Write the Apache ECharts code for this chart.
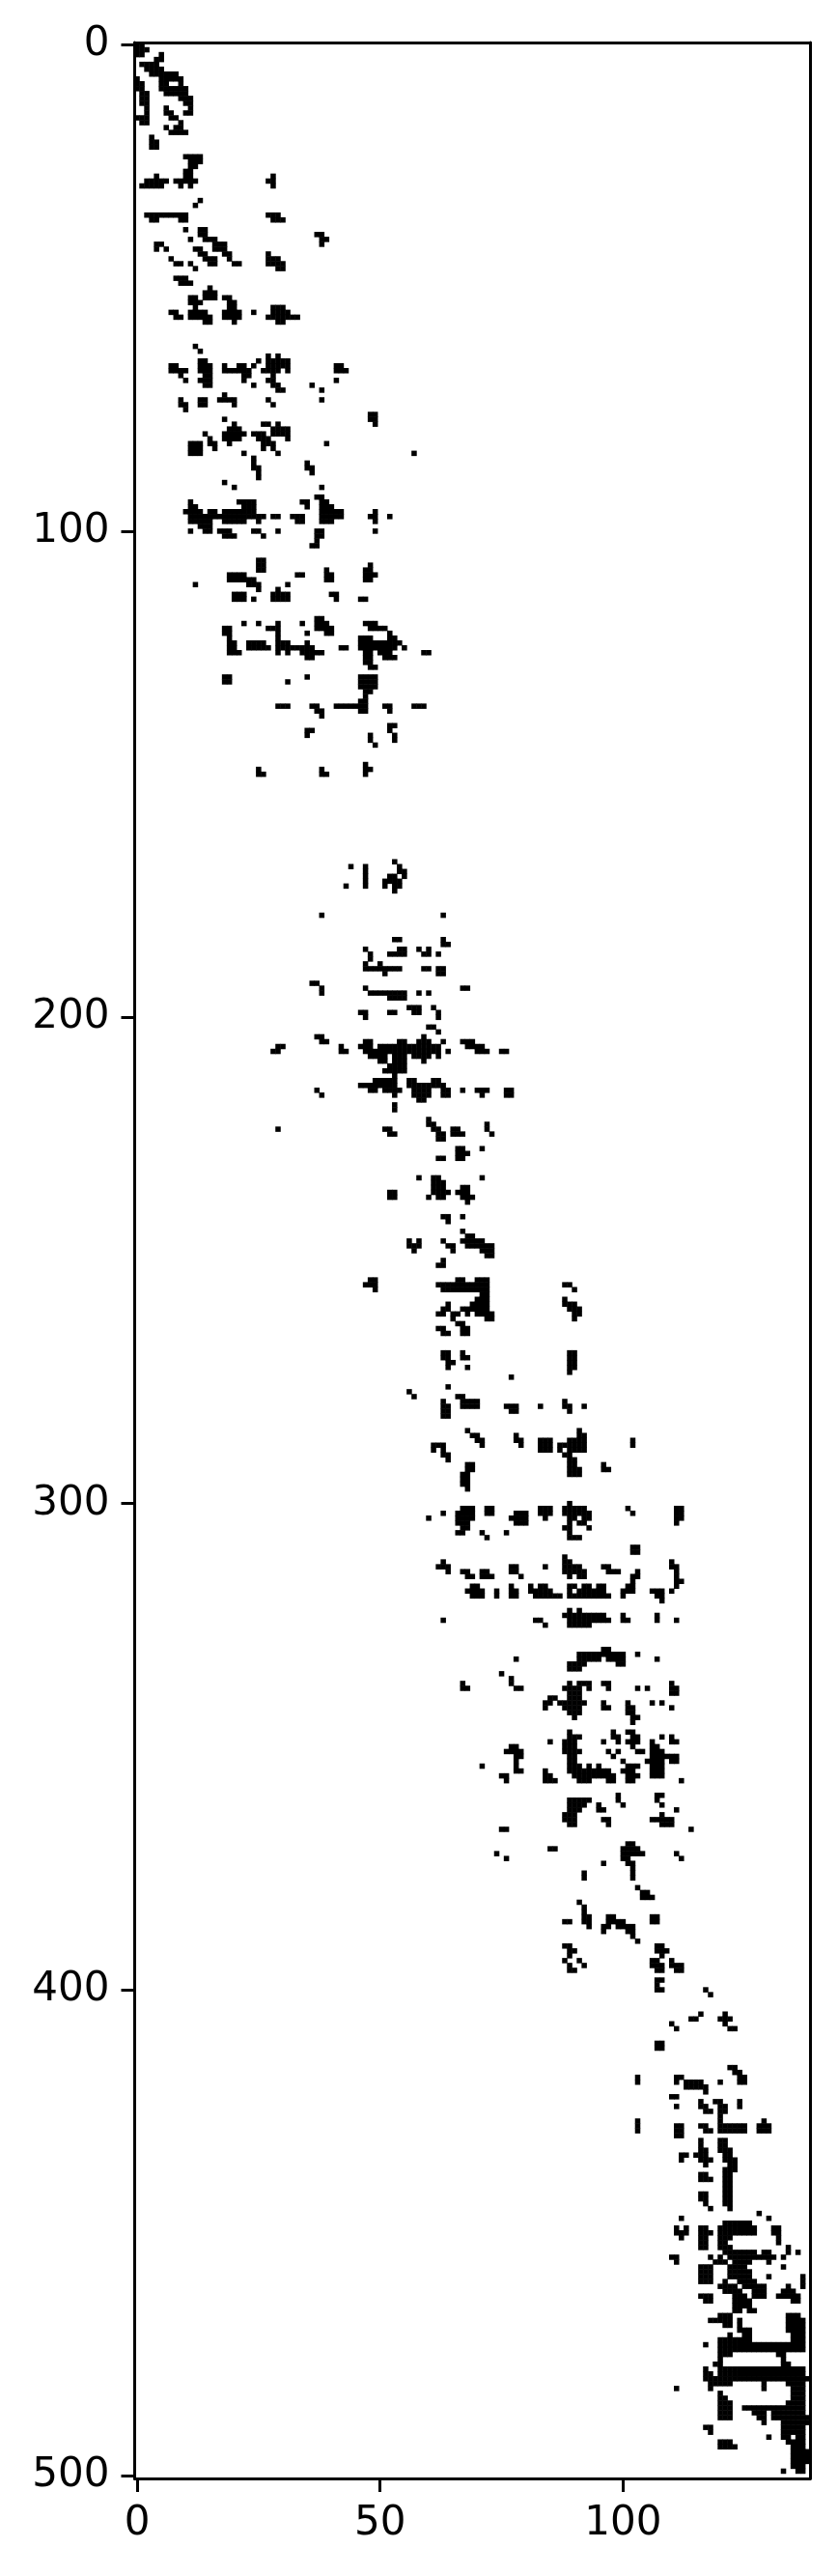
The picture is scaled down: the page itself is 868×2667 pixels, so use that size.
<!DOCTYPE html>
<html><head><meta charset="utf-8">
<script src="https://cdn.jsdelivr.net/npm/echarts@6/dist/echarts.min.js"></script>
<style>html,body{margin:0;padding:0;background:#fff}#c{width:868px;height:2667px}</style>
</head><body><div id="c"></div>
<script>
const rowCount = 501;
const colCount = 139;
const xTickStep = 50;
const yTickStep = 100;
// each entry: "row:col or colStart-colEnd, ..."
const rowRuns = [
"0:0-1","1:0-2","2:0-1,5","3:4-5","4:1-4","5:2-5","6:3-8","7:0,5-9","8:0-1,5-6,9","9:0-1,5-10","10:1-2,6-10","11:1-2,9-11","12:1-2,10-11","13:2,6,11","14:2,6-7,10-11","15:0-2,7-8","16:1-2,9","17:6,8-9","18:7-10","19:3","20:3-4","21:3-4",
"23:10-13","24:11-13","25:11-12","26:10-11","27:4,10-11,28","28:2-6,8-12,27-28","29:1-5,9,11,28","32:13","33:12","35:2-10,27-29","36:3-4,9-10,28-30","38:10,13-14","39:13-14,37-38","40:11,14-16,38-39","41:4-5,16-18,38","42:4,6,12-13,16-18","43:13-14,18-19,27","44:7,14-16,19,27-29","45:8-9,11,15-16,20-21,27-30","46:12,29-30","48:8-10","49:9-11","50:15",
"51:14-16","52:11-12,14-16,18-19","53:11-13,19-20","54:12,19-20,28-30","55:7-8,11-14,18-21,24,28-31","56:8-9,11-15,18-21,27-33","57:14-15,20,29-30",
"62:12","63:13","64:27,29","65:13-14,25,27-31","66:7-8,13-15,18,21-22,24,27-31,41-42","67:7-10,13-15,18-23,26-29,31,41-43","68:9,14-15,22-23,28","69:10,13-15,22,27-28,41","70:14-15,24,28-29,36","71:29-30,38","72:18","73:9,13-14,17-20,27,38","74:9-10,13-14,20,28","75:10","76:48-49","77:18,48-49","78:20,26-27,29,49","79:19-21,28-31","80:14,18-22,24-26,28-31","81:15,18-21,25-27,31","82:11-13,15-16,19,26-28,39","83:11-13,16,26,28","84:11-13,22,29,57","85:24","86:24,35","87:24-25,35-36","88:25,36","89:25","90:18","91:20,38","93:37-38","94:11,21-24,34-35,38-39","95:11-12,22-24,35,38-40","96:10-13,15-16,18-24,38-42,49","97:11-26,28-29,32-34,38-42,48-49,52","98:11-15,18-22,25,33-34,38-40,49","99:13-15","100:11,14-15,17-19,24-25,29,37-38,49","101:18-20,26,37-38","102:37",
"103:36-37","106:25-26","107:25-26,48","108:25-26,39,47-48","109:19-22,33-34,39-40,47-49","110:19-24,39-40,47-48","111:12,23-25,31","112:25,29","113:20-22,28-31,40-41","114:20-22,24,28-31,41,46-47","118:37-38","119:22,25,29,34,37-39,47-49","120:18-19,27-29,37-40,48-51","121:18-19,29,35,39-40,52","122:19,29,46-48,52-53","123:19-20,23-26,29-31,35,46-54","124:19-20,23-27,29-36,42-43,46-49,50-53,55","125:19-21,29,31,34-38,47-48,50-52,59-60","126:35-36,47-48,51-53","127:47-48","128:48-49","130:18-19,35,46-49","131:18-19,31,46-49","132:46-49","133:47-48","134:47","135:46-47","136:29-31,36-37,41-47,51-52,57-59","137:37-38,46-47,52","138:38","140:52-53","141:35-36,52","142:35,48,53","143:48,53","144:49","148:47","149:25,38,47-48","150:25-26,38-39,47",
"168:53","169:44,47,54","170:47,54-55","171:47,52-53,55","172:47,51-54","173:43,47,51,53-54","174:53","179:38,63","184:53-54,63","185:63-64","186:47,54-55,58,60","187:48,52-55,59-60,62","188:48","189:47,50","190:47-54,59-60,62-63","191:51,62-63","193:36-37","194:38,47,67-68","195:38,48-55,58,60","196:52-55","198:56-58,61","199:46-47,52-53,57-58,62","200:47,62","202:60-61","203:62","204:37-38,59","205:38-39,47-48,54-55,58-60,63,67-69","206:29-30,42,46-48,50-62,68-71","207:28-29,42-43,47-62,64,70-72,75-76","208:48-51,53-55,57-60,62","209:50-51,53-55,59","210:52-55","211:51-55","212:53","213:49-53,56-57,61-62","214:46-53,56-63","215:37,48-49,51-54,57-60,63-64,67,70-72,76-77","216:38,53,57-60,63-64,71,76-77","217:58-59","218:53","219:53","221:60","222:60-61,72","223:29,51-52,61-62,65-66,72","224:52-53,62-63,65-67,73","225:62-63",
"227:66-67,71","228:66-68","229:62-63,66-67","233:58,61-62,71","234:61-63","235:61-63,67-68","236:52-53,61-64,66-68","237:52-53,60,62-63,67-69","238:68","241:63-64,67","242:64","244:67","245:68-69",
"246:56,58,63,67-71","247:56-58,64-65,68-73","248:57,65,71-73","249:72-73","250:63","251:62-63","254:48-49,66-67,70-72","255:47-49,62-72,88-89","256:49,63-72,90","257:71-72","258:70-72,88","259:64,69-72,88-90","260:63-64,67-72,89-91","261:62-63,65-66,68,70-73,90-91","262:65,72-73,90","263:66-67","264:62-63,67-68","265:63-64,67-68","269:63-64,67,89-90","270:63-64,67-68,89-90","271:64-65,89-90","272:64,68,89-90","273:89","274:77","276:64","277:56","278:57,66-67","279:63,67-70,88","280:63-64,67-70,76-78,83,88-89,92","281:63-64,77-78,89","282:63-64","285:68,91","286:69-70,78,91-92","287:70-71,78-79,83-85,89-92,102","288:61-63,71,79,83-85,87-92,102","289:61,63,83-85,87,89-92","290:63-64,88-89","291:64,89-90","292:68-69,89-90,96","293:68-69,89-91,96-97","294:67-68,89-91","295:67-68","296:67-68","297:68",
"300:89","301:67-69,72-73,83-85,88-92,101,111-112","302:63,66-69,72-73,78-80,83-85,88-93,102,111-112","303:60,66-69,77-80,84,89-90,92-93,111-112","304:66-68,78-80,89,91-92,111","305:67-68,88-89,93","306:66-67,71,76,89","307:72,89-91","309:102-103","310:102-103","311:88","312:63,88-89,110","313:62-64,77-78,84,88-91,96-97,110-111","314:64,67-68,71-72,77-78,88-92,97-99,103,111","315:68-69,71-73,79,89,91-92,102-103,111","316:102,111-112","317:69-70,77,81,83-84,89-90,92-93,95-96,101-102,111","318:68-71,74,77-78,81-85,89,91-96,100-102,106-108,110","319:69-71,74,77-78,82-87,89-97,100,107-108","320:108","322:89,91","323:88-96,100,107","324:63,82-83,89-97,100-101,107,111","325:84,89-93","330:96-97","331:91-100,103","332:78,91-95,97-100,107","333:89-92,99-100","334:89-91","335:75","336:77","337:67,77,89,91-93,96-97,110","338:67-68,78-79,88-91,93,97,103,105,110-111","339:89-91,110-111","340:85-86,89-91","341:84-85,87-92,96,101,106,108","342:84,88-91,96-97,101-102,110","343:89-91,101-102","344:90,102-103","345:102","347:89,98,101-102","348:89-91,98-99,102-103,108,110",
"349:85,88-90,96,99,101-103,106,110-111","350:77-78,88-90,102,106-107","351:76-79,88-91,97,99,103-104,106-108","352:78-79,89-90,98,106-111","353:78,89-90,100,105-108,110-111","354:71,78,89-91,93,95,101-103,106-108","355:78-79,84,89-97,100-102,106-108","356:75-76,84-85,90-98,101-103,106-108","357:76,84-86,91-93,97-98,101-102,112","360:99,107-108","361:89-93,99,107","362:89-92,95,100,108","363:89-91,95-96,111","364:88-90,108","365:88-90,96-97,106-110","366:89-90,97,108-110","367:75-76,114","370:101-102","371:85-86,100-103","372:74,100-104,111","373:76,100-101,112","374:96,101-102","375:102","376:92,102","377:92,102","379:103","380:104-105","381:104-106","382:91","383:92","384:92","385:92-93,97-98,106-107","386:88-89,92-93,97-100,106-107","387:93,96-97,99-102","388:96,101-102","389:102","390:103","391:88-89,107-108","392:89-90,107-109","393:89,108","394:88,91,106-107,110","395:89,92,106-108,110-112","396:89-90,107-108,111-112","398:107-108","399:107","400:107-108,117","401:118",
"405:116,121","406:114-115,120-122","407:110,121","408:111,122-123","411:107-108","412:107-108","416:122-123","417:123-124","418:103,111-112,124-125","419:103,111,113-116,120,124-125","420:113-117","421:117","422:110-111","423:116,119-120,124","424:111,116-117,120-121,124","425:117-118,120-121","426:120","427:103,120,129","428:103,111-112,116-117,120-125,128-130","429:103,111-112,117-118,120-125,128-130","430:111-112","431:116,120-121","432:116,120-121","433:116-117,120-122","434:112-113,115-117,121-122","435:112,116-118,121-123","436:117,122-123","437:121-123","438:116-117,121-122","439:116-118,121-122","440:121-122","441:121-122","442:116-117,121-122","443:116-117,121-122","444:117,121-122","445:118,122","446:128","447:112,130","448:121-126","449:111,113,116-117,120-127,131-132",
"450:111-113,116-118,120-127,131-132","451:112,116-117,120-122,132","452:116-117,120-121,132","453:116-117,120-122,134","454:121-127,129-130,134,136","455:110-111,118,120,122-131,133","456:111,119-121,123-126,130","457:116-118,122-125,133","458:116-118,122-126","459:116-118,122-126,130,137","460:116-118,121,124-127,137","461:120-123,125-129,134,137","462:121-124,127-129,133-135","463:116-118,123-125,127-129,132-136","464:117-118,123-126,135-136","465:123-126","466:123-124,126-127","467:120-122,134-136","468:118-122,124,134-137","469:121-122,124,134-137","470:124-126,134-137","471:122,125-126,135-137","472:120-126,135-137","473:117,120-137","474:120-137","475:120-122,132-133","476:120,133","477:119-120,133-134","478:117,120-137","479:117-118,120-137","480:117-138","481:118-122,129,134-137","482:111,118,129,135-137","483:120,135-137","484:120-121,135-137","485:120-122,134-137","486:120-122,125-137","487:120-122,127-129,131-137","488:120-122,128-129,131-138","489:129,133-138","490:117-118,133-137","491:118,133-137","492:130,133-134,136-137","493:120-122,134-137","494:120-123,135-137","495:135-138","496:135-138","497:135-138","498:135-137","499:133,136-137"
];

const cells = [];
rowRuns.forEach(function (entry) {
  const parts = entry.split(':');
  const row = +parts[0];
  parts[1].split(',').forEach(function (run) {
    const ends = run.split('-').map(Number);
    const last = ends.length > 1 ? ends[1] : ends[0];
    for (let col = ends[0]; col <= last; col++) cells.push([col, row, 1]);
  });
});
const xCats = Array.from({length: colCount}, function (_, i) { return String(i); });
const yCats = Array.from({length: rowCount}, function (_, i) { return String(i); });
const font = {color: '#000', fontFamily: 'DejaVu Sans', fontSize: 42};
const frameLine = {show: true, onZero: false, lineStyle: {color: '#000', width: 3}};
const xEvery = function (i) { return i % xTickStep === 0; };
const yEvery = function (i) { return i % yTickStep === 0; };

const chart = echarts.init(document.getElementById('c'), null, {renderer: 'canvas'});
chart.setOption({
  animation: false,
  backgroundColor: '#fff',
  grid: {left: 139.5, top: 44, width: 699.7, height: 2522, containLabel: false},
  xAxis: [
    {type: 'category', data: xCats, position: 'bottom', z: 5, axisLine: frameLine,
     axisTick: {show: true, alignWithLabel: true, interval: xEvery, length: 14, lineStyle: {color: '#000', width: 3}},
     axisLabel: Object.assign({interval: xEvery, margin: 26, hideOverlap: false}, font), splitLine: {show: false}},
    {type: 'category', data: xCats, position: 'top', z: 5, axisLine: frameLine, axisTick: {show: false}, axisLabel: {show: false}, splitLine: {show: false}}
  ],
  yAxis: [
    {type: 'category', data: yCats, inverse: true, position: 'left', z: 5, axisLine: frameLine,
     axisTick: {show: true, alignWithLabel: true, interval: yEvery, length: 14, lineStyle: {color: '#000', width: 3}},
     axisLabel: Object.assign({interval: yEvery, margin: 26, hideOverlap: false}, font), splitLine: {show: false}},
    {type: 'category', data: yCats, inverse: true, position: 'right', z: 5, axisLine: frameLine, axisTick: {show: false}, axisLabel: {show: false}, splitLine: {show: false}}
  ],
  series: [{
    type: 'heatmap', xAxisIndex: 0, yAxisIndex: 0, data: cells, progressive: 0, z: 2,
    itemStyle: {color: '#000', borderWidth: 0}, emphasis: {disabled: true}, silent: true
  }]
});
</script></body></html>
